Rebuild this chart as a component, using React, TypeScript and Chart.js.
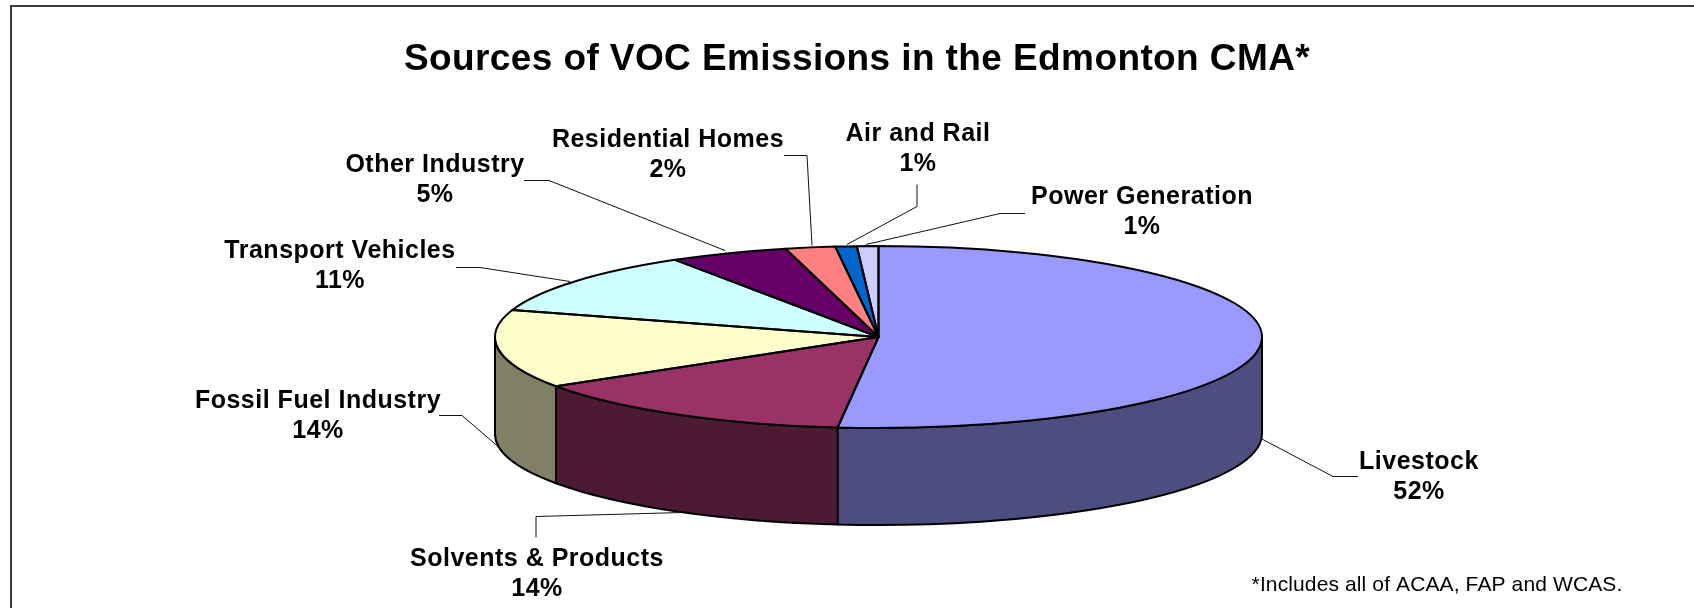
import React, { useEffect, useRef } from "react";
import { Chart, registerables } from "chart.js";

Chart.register(...registerables);

const TITLE = "Sources of VOC Emissions in the Edmonton CMA*";
const FOOTNOTE = "*Includes all of ACAA, FAP and WCAS.";

const categories = [
  "Livestock",
  "Solvents & Products",
  "Fossil Fuel Industry",
  "Transport Vehicles",
  "Other Industry",
  "Residential Homes",
  "Air and Rail",
  "Power Generation",
];
const values = [51.7, 14.2, 13.9, 11.3, 5.0, 2.1, 0.9, 0.9];

const topColors = ["#9999FF", "#993366", "#FFFFCC", "#CCFFFF", "#660066", "#FF8080", "#0066CC", "#CCCCFF"];
const wallColors = ["#4D4D80", "#4D1A33", "#808066", "#668080", "#330033", "#804040", "#003366", "#666680"];

// label layout: centre x, first line y, per category
const labelX = [1419, 537, 318, 340, 435, 668, 918, 1142];
const labelY = [462, 559, 401, 251, 165, 140, 134, 197];
const LINE_GAP = 30;

// leader polylines, per category
const leaders: number[][][] = [
  [[1261, 438], [1333, 476], [1358, 476]],
  [[682, 512], [536, 516], [536, 537]],
  [[498, 446], [462, 415], [439, 415]],
  [[570, 281], [480, 267], [456, 267]],
  [[725, 250], [549, 180], [524, 180]],
  [[812, 245], [807, 155], [784, 155]],
  [[847, 244], [917, 206], [917, 184]],
  [[866, 244], [1000, 213], [1025, 213]],
];

const PIE = { cx: 878.5, cy: 337, rx: 383.5, ry: 91, depth: 97 };

const pie3d = {
  id: "pie3d",
  beforeDraw(chart: any) {
    const ctx = chart.ctx;
    ctx.save();
    ctx.fillStyle = "#fff";
    ctx.fillRect(0, 0, chart.width, chart.height);
    ctx.lineWidth = 2;
    ctx.strokeStyle = "#3a3a3a";
    ctx.beginPath();
    ctx.moveTo(11, chart.height);
    ctx.lineTo(11, 6);
    ctx.lineTo(chart.width, 6);
    ctx.stroke();
    ctx.restore();
    ctx.letterSpacing = "0.4px";
  },
  beforeDatasetsDraw(chart: any) {
    const ctx = chart.ctx;
    ctx.letterSpacing = "0px";
    const arcs = chart.getDatasetMeta(0).data;
    const { cx, cy, rx, ry, depth } = PIE;
    ctx.save();
    ctx.lineWidth = 2;
    ctx.strokeStyle = "#000";
    ctx.lineJoin = "round";
    arcs.forEach((arc: any, i: number) => {
      const a = Math.max(arc.startAngle, 0);
      const b = Math.min(arc.endAngle, Math.PI);
      if (a >= b) return;
      ctx.beginPath();
      ctx.ellipse(cx, cy, rx, ry, 0, a, b);
      ctx.ellipse(cx, cy + depth, rx, ry, 0, b, a, true);
      ctx.closePath();
      ctx.fillStyle = wallColors[i];
      ctx.fill();
      ctx.stroke();
    });
    ctx.restore();
    const first = arcs[0];
    ctx.save();
    ctx.translate(cx, cy);
    ctx.scale(rx / first.outerRadius, ry / first.outerRadius);
    ctx.translate(-first.x, -first.y);
  },
  afterDatasetsDraw(chart: any) {
    const ctx = chart.ctx;
    ctx.restore();
    const arcs = chart.getDatasetMeta(0).data;
    const { cx, cy, rx, ry } = PIE;
    ctx.save();
    ctx.lineWidth = 2;
    ctx.strokeStyle = "#000";
    ctx.lineJoin = "round";
    arcs.forEach((arc: any) => {
      ctx.beginPath();
      ctx.moveTo(cx, cy);
      ctx.ellipse(cx, cy, rx, ry, 0, arc.startAngle, arc.endAngle);
      ctx.closePath();
      ctx.stroke();
    });
    ctx.restore();

    // leader lines
    ctx.save();
    ctx.lineWidth = 1;
    ctx.strokeStyle = "#111";
    leaders.forEach((pts) => {
      ctx.beginPath();
      pts.forEach(([x, y], k) => (k ? ctx.lineTo(x, y + 0.5) : ctx.moveTo(x, y + 0.5)));
      ctx.stroke();
    });
    ctx.restore();

    // labels
    const total = values.reduce((s, v) => s + v, 0);
    ctx.save();
    ctx.fillStyle = "#000";
    ctx.textAlign = "center";
    ctx.textBaseline = "middle";
    ctx.font = 'bold 25px "Liberation Sans"';
    ctx.letterSpacing = "0.5px";
    categories.forEach((name, i) => {
      ctx.fillText(name, labelX[i], labelY[i]);
      ctx.fillText(`${Math.round((values[i] / total) * 100)}%`, labelX[i], labelY[i] + LINE_GAP);
    });
    ctx.font = '21px "Liberation Sans"';
    ctx.letterSpacing = "0.12px";
    ctx.fillText(FOOTNOTE, 1437, 585);
    ctx.letterSpacing = "0px";
    ctx.restore();
  },
};

export default function App() {
  const ref = useRef<HTMLCanvasElement | null>(null);
  useEffect(() => {
    const chart = new Chart(ref.current as HTMLCanvasElement, {
      type: "pie",
      data: {
        labels: categories,
        datasets: [
          {
            data: values,
            backgroundColor: topColors,
            borderWidth: 0,
            clip: false as any,
          },
        ],
      },
      options: {
        responsive: false,
        animation: false,
        events: [],
        rotation: 0,
        layout: { padding: { left: 20, top: 38 } },
        plugins: {
          legend: { display: false },
          tooltip: { enabled: false },
          title: {
            display: true,
            text: TITLE,
            color: "#000",
            font: { family: '"Liberation Sans"', size: 37, weight: "bold" },
            padding: 0,
          },
        },
      },
      plugins: [pie3d],
    } as any);
    return () => chart.destroy();
  }, []);
  return (
    <div style={{ position: "fixed", left: 0, top: 0, width: 1694, height: 608 }}>
      <canvas ref={ref} width={1694} height={608} style={{ display: "block" }} />
    </div>
  );
}
